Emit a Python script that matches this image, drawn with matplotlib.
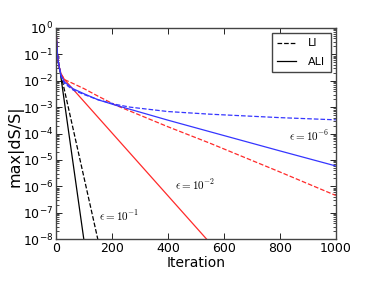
import matplotlib
matplotlib.use("Agg")
import matplotlib.pyplot as plt
from matplotlib.lines import Line2D
from matplotlib.ticker import LogLocator, NullFormatter

# Data (iteration, max|dS/S|)
it_ali_1 = [0, 1, 3, 5, 8, 12, 15, 99]
v_ali_1 = [1.0, 0.5, 0.2, 0.1, 0.05, 0.028, 0.02, 1e-8]

it_li_1 = [0, 1, 3, 5, 8, 12, 18, 149]
v_li_1 = [1.0, 0.5, 0.2, 0.1, 0.05, 0.03, 0.016, 1e-8]

it_ali_2 = [0, 1, 3, 5, 8, 12, 18, 30, 538]
v_ali_2 = [1.0, 0.5, 0.2, 0.1, 0.05, 0.03, 0.018, 0.011, 1e-8]

it_li_2 = [0, 1, 3, 5, 8, 12, 18, 30, 60, 100, 150, 214, 264, 400, 550, 800, 1000]
v_li_2 = [1.0, 0.5, 0.2, 0.1, 0.05, 0.03, 0.018, 1.1e-2, 7.9e-3, 5.0e-3, 2.6e-3,
          1.17e-3, 7.1e-4, 1.8e-4, 4.3e-5, 3.5e-6, 4.5e-7]

it_ali_6 = [0, 1, 3, 5, 8, 12, 18, 30, 60, 100, 150, 214, 264, 400, 550, 800, 1000]
v_ali_6 = [1.0, 0.5, 0.2, 0.1, 0.05, 0.03, 0.016, 8.9e-3, 5.0e-3, 3.2e-3, 1.9e-3,
           1.17e-3, 8.3e-4, 3.2e-4, 1.17e-4, 2.2e-5, 5.9e-6]

it_li_6 = [0, 1, 3, 5, 8, 12, 18, 30, 60, 100, 150, 214, 264, 400, 550, 800, 1000]
v_li_6 = [1.0, 0.5, 0.2, 0.1, 0.05, 0.03, 0.014, 7.9e-3, 4.5e-3, 3.0e-3, 1.9e-3,
          1.26e-3, 1.0e-3, 6.8e-4, 5.4e-4, 4.0e-4, 3.3e-4]

legend_labels = ["LI", "ALI"]
x_ticks = [0, 200, 400, 600, 800, 1000]

fig = plt.figure(figsize=(3.74, 2.82), dpi=100)
ax = fig.add_axes([0.150, 0.152, 0.748, 0.749])

lw = 0.9
red = "#ff2a2a"
blue = "#3535ff"
ax.plot(it_ali_1, v_ali_1, color="k", lw=lw, ls="-")
ax.plot(it_li_1, v_li_1, color="k", lw=lw, ls="--")
ax.plot(it_ali_2, v_ali_2, color=red, lw=lw, ls="-")
ax.plot(it_li_2, v_li_2, color=red, lw=lw, ls="--")
ax.plot(it_ali_6, v_ali_6, color=blue, lw=lw, ls="-")
ax.plot(it_li_6, v_li_6, color=blue, lw=lw, ls="--")

ax.set_yscale("log")
ax.set_ylim(1e-8, 1)
ax.set_xlim(0, 1000)
ax.set_xticks(x_ticks)
ax.yaxis.set_major_locator(LogLocator(base=10, numticks=20))
ax.yaxis.set_minor_locator(LogLocator(base=10, subs=range(2, 10), numticks=100))
ax.yaxis.set_minor_formatter(NullFormatter())

ax.tick_params(which="both", direction="in", top=True, right=True, labelsize=9, pad=2)
ax.tick_params(which="major", length=4, width=0.6)
ax.tick_params(which="minor", length=2, width=0.5)
for s in ax.spines.values():
    s.set_color("#444444")
    s.set_linewidth(1.0)

ax.set_xlabel("Iteration", fontsize=10, labelpad=1)
ax.set_ylabel("max|dS/S|", fontsize=11.5)
ax.yaxis.set_label_coords(-0.117, 0.44)

ax.text(155, 10**-7.1, r"$\epsilon=10^{-1}$", fontsize=8, va="center", ha="left",
        math_fontfamily="cm")
ax.text(425, 10**-5.95, r"$\epsilon=10^{-2}$", fontsize=8, va="center", ha="left",
        math_fontfamily="cm")
ax.text(832, 10**-4.1, r"$\epsilon=10^{-6}$", fontsize=8, va="center", ha="left",
        math_fontfamily="cm")

handles = [Line2D([], [], color="k", ls="--", lw=lw),
           Line2D([], [], color="k", ls="-", lw=lw)]
leg = ax.legend(handles, legend_labels, loc="upper right", fontsize=8,
                fancybox=False, framealpha=1, handlelength=1.7, borderpad=0.5,
                labelspacing=0.75, handletextpad=1.1, borderaxespad=0.45)
leg.get_frame().set_edgecolor("#444444")
leg.get_frame().set_linewidth(1.0)

fig.savefig("out.png", dpi=100)
